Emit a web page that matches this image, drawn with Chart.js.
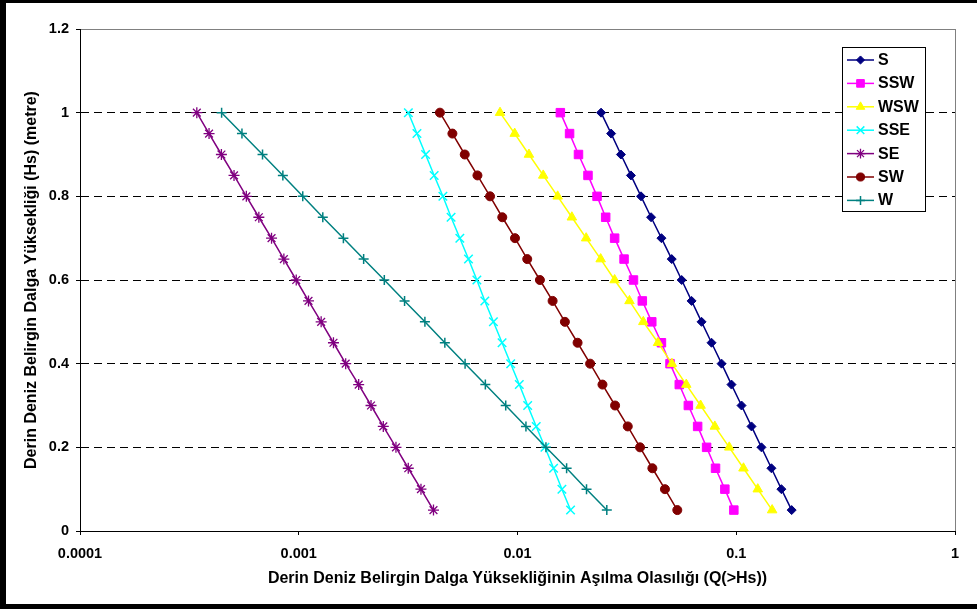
<!DOCTYPE html>
<html><head><meta charset="utf-8">
<script src="https://cdn.jsdelivr.net/npm/chart.js@4.4.0/dist/chart.umd.min.js"></script>
<style>
html,body{margin:0;padding:0;background:#fff;}
#wrap{position:relative;width:977px;height:609px;overflow:hidden;background:#fff;}
#c{position:absolute;left:0;top:0;}
#frame{position:absolute;left:0;top:0;width:977px;height:609px;box-sizing:border-box;border-top:3px solid #000;border-left:6px solid #000;border-bottom:5px solid #000;pointer-events:none;}
</style></head><body>
<div id="wrap"><canvas id="c" width="977" height="609"></canvas><div id="frame"></div></div>
<script>
// Significant wave height levels (m)
const hsLevels = [1, 0.95, 0.9, 0.85, 0.8, 0.75, 0.7, 0.65, 0.6, 0.55, 0.5, 0.45, 0.4, 0.35, 0.3, 0.25, 0.2, 0.15, 0.1, 0.05];
const seriesNames = ['S', 'SSW', 'WSW', 'SSE', 'SE', 'SW', 'W'];
// Exceedance probabilities Q(>Hs) per direction, aligned with hsLevels
const qS   = [0.0241, 0.0268, 0.0297, 0.0330, 0.0367, 0.0408, 0.0455, 0.0507, 0.0563, 0.0625, 0.0694, 0.0771, 0.0857, 0.0951, 0.1057, 0.1174, 0.1304, 0.1448, 0.1608, 0.1792];
const qSSW = [0.0157, 0.0173, 0.0190, 0.0210, 0.0231, 0.0253, 0.0278, 0.0307, 0.0339, 0.0372, 0.0411, 0.0455, 0.0498, 0.0549, 0.0604, 0.0666, 0.0732, 0.0804, 0.0887, 0.0975];
const qWSW = [0.00832, 0.00971, 0.01128, 0.01311, 0.01526, 0.01772, 0.0206, 0.0240, 0.0278, 0.0325, 0.0376, 0.0439, 0.0508, 0.0591, 0.0687, 0.0798, 0.0929, 0.1079, 0.1254, 0.1459];
const qSSE = [0.00317, 0.00347, 0.00380, 0.00416, 0.00456, 0.00497, 0.00545, 0.00597, 0.00652, 0.00709, 0.00776, 0.00850, 0.00931, 0.01019, 0.01113, 0.01218, 0.01335, 0.01462, 0.01596, 0.01748];
const qSE  = [0.000342, 0.000389, 0.000443, 0.000506, 0.000576, 0.000657, 0.000751, 0.000855, 0.000974, 0.001108, 0.001266, 0.001441, 0.001639, 0.001879, 0.00214, 0.002435, 0.002782, 0.003167, 0.00362, 0.00413];
const qSW  = [0.00442, 0.00504, 0.00574, 0.00656, 0.00749, 0.00852, 0.00974, 0.01108, 0.01266, 0.01447, 0.01647, 0.01882, 0.02148, 0.02446, 0.02793, 0.03192, 0.03632, 0.04136, 0.04721, 0.05377];
const qW   = [0.000444, 0.000550, 0.000683, 0.000846, 0.001043, 0.001288, 0.0016, 0.00198, 0.002461, 0.003046, 0.003773, 0.004654, 0.00576, 0.007129, 0.008834, 0.01093, 0.01349, 0.01677, 0.02068, 0.0256];
const xTickValues = [0.0001, 0.001, 0.01, 0.1, 1];
const xTickLabels = ['0.0001', '0.001', '0.01', '0.1', '1'];
const yTickValues = [0, 0.2, 0.4, 0.6, 0.8, 1, 1.2];
const yTickLabels = ['0', '0.2', '0.4', '0.6', '0.8', '1', '1.2'];
const xTitle = 'Derin Deniz Belirgin Dalga Yüksekliğinin Aşılma Olasılığı (Q(>Hs))';
const yTitle = 'Derin Deniz Belirgin Dalga Yüksekliği (Hs) (metre)';

const seriesValues = [qS, qSSW, qWSW, qSSE, qSE, qSW, qW];
const styles = [
  {color: '#000080', point: 'rectRot', r: 4.5, bw: 1},
  {color: '#FF00FF', point: 'rect', r: 6, bw: 1},
  {color: '#FFFF00', point: 'triangle', r: 5.5, bw: 1},
  {color: '#00FFFF', point: 'crossRot', r: 6, bw: 1.5},
  {color: '#800080', point: 'star', r: 5.5, bw: 1.3},
  {color: '#800000', point: 'circle', r: 4.5, bw: 1},
  {color: '#008080', point: 'cross', r: 5, bw: 1.5}
];
const FONT = '"Liberation Sans", Arial, sans-serif';

const datasets = seriesNames.map((name, i) => ({
  label: name,
  data: hsLevels.map((h, k) => ({x: seriesValues[i][k], y: h})),
  borderColor: styles[i].color,
  backgroundColor: styles[i].color,
  pointStyle: styles[i].point,
  pointRadius: styles[i].r,
  pointHoverRadius: styles[i].r,
  pointBorderWidth: styles[i].bw,
  borderWidth: 1.5,
  showLine: true,
  fill: false,
  tension: 0,
  order: seriesNames.length - i
}));

const boxLegend = {
  id: 'boxLegend',
  afterDraw(chart) {
    const ctx = chart.ctx;
    const ca = chart.chartArea;
    const bx = ca.right - 113, by = ca.top + 18, bw = 83, bh = 164;
    ctx.save();
    ctx.fillStyle = '#fff';
    ctx.fillRect(bx, by, bw, bh);
    ctx.strokeStyle = '#000';
    ctx.lineWidth = 1;
    ctx.strokeRect(bx + 0.5, by + 0.5, bw, bh);
    seriesNames.forEach((name, i) => {
      const y = by + 13 + i * 23.4;
      const st = styles[i];
      ctx.strokeStyle = st.color;
      ctx.fillStyle = st.color;
      ctx.lineWidth = 1.5;
      ctx.beginPath();
      ctx.moveTo(bx + 5, y);
      ctx.lineTo(bx + 32, y);
      ctx.stroke();
      ctx.lineWidth = st.bw;
      Chart.helpers.drawPoint(ctx, {pointStyle: st.point, radius: st.r * 0.9, borderWidth: st.bw, rotation: 0}, bx + 18.5, y);
      ctx.fillStyle = '#000';
      ctx.font = 'bold 16px ' + FONT;
      ctx.textBaseline = 'middle';
      ctx.textAlign = 'left';
      ctx.fillText(name, bx + 36, y + 0.5);
    });
    ctx.restore();
  }
};

new Chart(document.getElementById('c'), {
  type: 'scatter',
  data: {datasets},
  plugins: [boxLegend],
  options: {
    responsive: false,
    animation: false,
    events: [],
    layout: {padding: {left: 16, right: 22, top: 29, bottom: 17}},
    plugins: {legend: {display: false}, tooltip: {enabled: false}},
    scales: {
      x: {
        type: 'logarithmic',
        min: 0.0001,
        max: 1,
        afterBuildTicks: s => { s.ticks = xTickValues.map(v => ({value: v})); },
        afterFit: s => { s.height = 61; },
        ticks: {
          callback: (v, i) => xTickLabels[i],
          autoSkip: false, maxRotation: 0, minRotation: 0,
          color: '#000', padding: 10,
          font: {family: FONT, size: 14.5, weight: 'bold'}
        },
        grid: {
          color: c => (c.tick && c.tick.value === 1) ? '#808080' : 'rgba(0,0,0,0)',
          tickColor: '#000', tickLength: 4, lineWidth: 1
        },
        border: {color: '#000', width: 1},
        title: {
          display: true, text: xTitle, color: '#000',
          font: {family: FONT, size: 16, weight: 'bold'},
          padding: {top: 2, bottom: 4}
        }
      },
      y: {
        min: 0,
        max: 1.2,
        afterBuildTicks: s => { s.ticks = yTickValues.map(v => ({value: v})); },
        afterFit: s => { s.width = 64; },
        ticks: {
          callback: (v, i) => yTickLabels[i],
          color: '#000', padding: 7,
          font: {family: FONT, size: 14.5, weight: 'bold'}
        },
        grid: {
          color: c => {
            const v = c.tick ? c.tick.value : 0;
            if (v > 1.19) return '#808080';
            if (v < 0.01) return 'rgba(0,0,0,0)';
            return '#000';
          },
          tickColor: '#000', tickLength: 4, lineWidth: 1
        },
        border: {
          color: '#000', width: 1,
          dash: c => (c.tick && c.tick.value > 1.19) ? [] : [8, 5]
        },
        title: {
          display: true, text: yTitle, color: '#000',
          font: {family: FONT, size: 16, weight: 'bold'},
          padding: {top: 6, bottom: 2}
        }
      }
    }
  }
});
</script>
</body></html>
